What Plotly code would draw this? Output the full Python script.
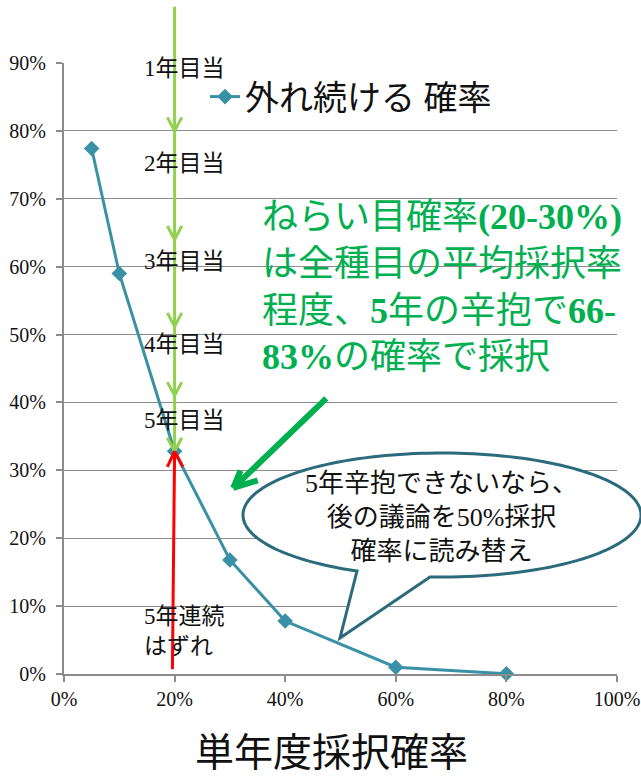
import numpy as np
import plotly.graph_objects as go

# Single-year acceptance rate vs. probability of missing five years in a row
rate = [0.05, 0.10, 0.20, 0.30, 0.40, 0.60, 0.80]
miss5 = [0.774, 0.590, 0.328, 0.168, 0.078, 0.010, 0.0003]
series_name = "外れ続ける 確率"

# Cumulative miss probability after each year at a 20% rate
year_rate = 0.20
year_miss = [0.80, 0.64, 0.512, 0.41, 0.328]
year_labels = ["1年目当", "2年目当", "3年目当", "4年目当", "5年目当"]
year_label_y = [0.892, 0.752, 0.607, 0.485, 0.374]
line_top = 0.985

x_ticks = [0, 0.2, 0.4, 0.6, 0.8, 1.0]
y_ticks = [0, 0.1, 0.2, 0.3, 0.4, 0.5, 0.6, 0.7, 0.8, 0.9]

x_title = "単年度採択確率"
green_note = ("ねらい目確率<b>(20-30%)</b><br>は全種目の平均採択率<br>"
              "程度、<b>5</b>年の辛抱で<b>66-</b><br><b>83%</b>の確率で採択")
bubble_note = "5年辛抱できないなら、<br>後の議論を50%採択<br>確率に読み替え"
red_note = "5年連続<br>はずれ"

# Layout geometry
W, H = 641, 778
L, R, T, B = 64, 24, 63, 104
PW, PH = W - L - R, H - T - B

SERIF = "'Liberation Serif', 'Noto Sans CJK JP', serif"
TEAL = "#3A91A6"
BUBBLE = "#2B6B7C"
LIGHT_GREEN = "#92D050"
GREEN = "#00B050"
GRID = "#8C8C8C"
INK = "#111111"


def to_paper(px, py):
    return (px - L) / PW, (T + PH - py) / PH


fig = go.Figure()
fig.add_trace(go.Scatter(
    x=rate, y=miss5, mode="lines+markers", name=series_name,
    line=dict(color=TEAL, width=3),
    marker=dict(symbol="diamond", size=12, color=TEAL),
    cliponaxis=False, showlegend=True,
))

annotations = []


def chevron(x, y, arms, color, width):
    for ax, ay in arms:
        annotations.append(dict(
            x=x, y=y, xref="x", yref="y", ax=ax, ay=ay, text="",
            showarrow=True, arrowhead=0, arrowwidth=width, arrowcolor=color,
            standoff=0, startstandoff=0))


# Light-green year-by-year arrows at the 20% rate
annotations.append(dict(
    x=year_rate, y=year_miss[-1], xref="x", yref="y",
    ax=year_rate, ay=line_top, axref="x", ayref="y", text="",
    showarrow=True, arrowhead=0, arrowwidth=3, arrowcolor=LIGHT_GREEN,
    standoff=0, startstandoff=0))
for ym in year_miss:
    chevron(year_rate, ym, [(-8, -15), (8, -15)], LIGHT_GREEN, 3)
for lbl, ly in zip(year_labels, year_label_y):
    annotations.append(dict(
        x=0.141, y=ly, xref="x", yref="y", text=lbl, showarrow=False,
        xanchor="left", yanchor="middle",
        font=dict(family=SERIF, size=23, color=INK)))

# Red arrow: five straight misses
annotations.append(dict(
    x=year_rate, y=miss5[2], xref="x", yref="y",
    ax=0.196, ay=0.005, axref="x", ayref="y", text="",
    showarrow=True, arrowhead=0, arrowwidth=3, arrowcolor="#FF0000",
    standoff=0, startstandoff=0))
chevron(year_rate, miss5[2], [(-8, 17), (9, 17)], "#FF0000", 3)
annotations.append(dict(
    x=0.141, y=0.063, xref="x", yref="y", text=red_note, showarrow=False,
    xanchor="left", yanchor="middle", align="left",
    font=dict(family=SERIF, size=23, color=INK)))

# Bold green arrow pointing at the target range
annotations.append(dict(
    x=0.306, y=0.274, xref="x", yref="y",
    ax=0.477, ay=0.408, axref="x", ayref="y", text="",
    showarrow=True, arrowhead=0, arrowwidth=6, arrowcolor=GREEN,
    standoff=0, startstandoff=0))
chevron(0.306, 0.274, [(8, -19), (26, -8)], GREEN, 6)

annotations.append(dict(
    x=0.354, y=0.57, xref="x", yref="y", text=green_note, showarrow=False,
    xanchor="left", yanchor="middle", align="left",
    font=dict(family=SERIF, size=36, color=GREEN)))

annotations.append(dict(
    x=0.682, y=0.231, xref="x", yref="y", text=bubble_note, showarrow=False,
    xanchor="center", yanchor="middle", align="center",
    font=dict(family=SERIF, size=26, color=INK)))

annotations.append(dict(
    x=to_paper(331, 0)[0], y=to_paper(0, 752)[1], xref="paper", yref="paper",
    text=x_title, showarrow=False, xanchor="center", yanchor="middle",
    font=dict(family=SERIF, size=39, color=INK)))

# Speech bubble: ellipse with a tail, as one outline
cx, cy, rx, ry = 442, 515, 199, 62
tip = (340, 638)
t_a = np.arccos((357 - cx) / rx)
t_b = np.arccos((430 - cx) / rx)
ts = np.linspace(t_b, t_a - 2 * np.pi, 160)
pts = [to_paper(cx + rx * np.cos(t), cy + ry * np.sin(t)) for t in ts]
pts.append(to_paper(*tip))
path = "M " + " L ".join(f"{px:.5f},{py:.5f}" for px, py in pts) + " Z"

shapes = [dict(type="path", path=path, xref="paper", yref="paper",
               fillcolor="white", line=dict(color=BUBBLE, width=3),
               layer="above")]

fig.update_layout(
    width=W, height=H,
    margin=dict(l=L, r=R, t=T, b=B, pad=0, autoexpand=False),
    paper_bgcolor="white", plot_bgcolor="white",
    annotations=annotations, shapes=shapes,
    legend=dict(
        x=to_paper(205, 0)[0], y=to_paper(0, 97)[1],
        xanchor="left", yanchor="middle",
        bgcolor="rgba(0,0,0,0)",
        font=dict(family=SERIF, size=34, color=INK),
    ),
    xaxis=dict(
        range=[0, 1.0], tickvals=x_ticks, tickformat=".0%",
        showgrid=False, zeroline=False, automargin=False,
        showline=True, linecolor=GRID, linewidth=2,
        ticks="outside", ticklen=6, tickcolor=GRID, tickwidth=2,
        tickfont=dict(family=SERIF, size=20, color=INK),
    ),
    yaxis=dict(
        range=[0, 0.9], tickvals=y_ticks, tickformat=".0%",
        showgrid=True, gridcolor=GRID, gridwidth=1, zeroline=False,
        automargin=False, ticklabelstandoff=6,
        showline=True, linecolor=GRID, linewidth=2,
        ticks="outside", ticklen=6, tickcolor=GRID, tickwidth=2,
        tickfont=dict(family=SERIF, size=20, color=INK),
    ),
)

fig.write_html("out.html")
